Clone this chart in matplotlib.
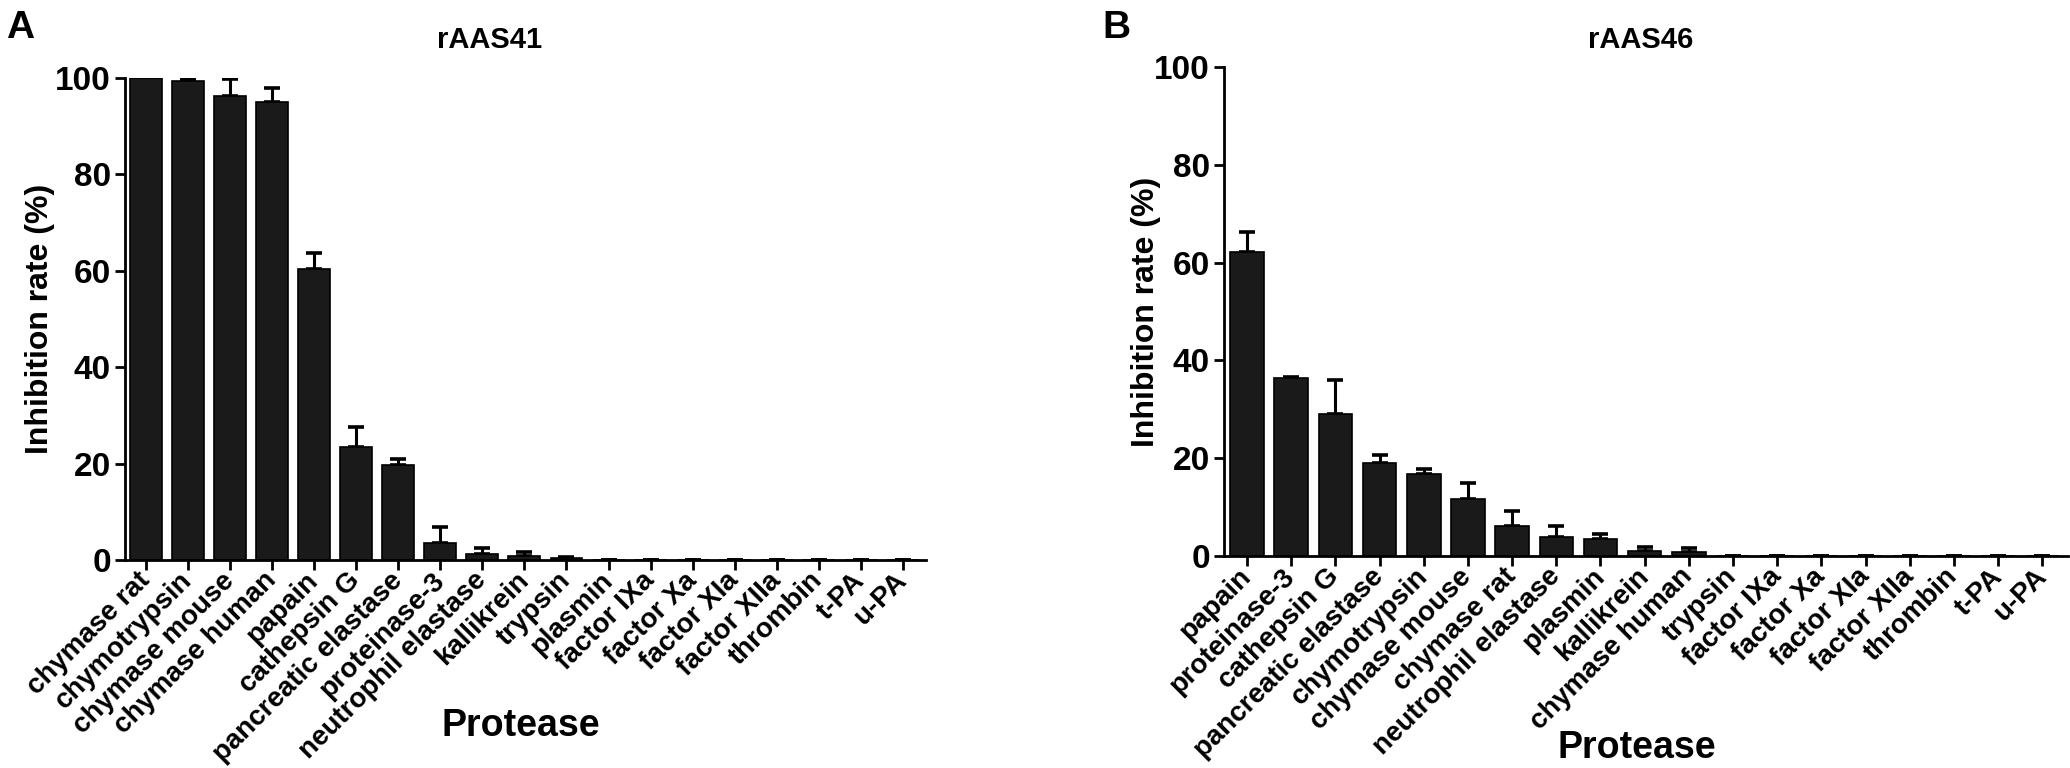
import matplotlib
matplotlib.use("Agg")
import matplotlib.pyplot as plt

plt.rcParams["font.family"] = ["Liberation Sans", "DejaVu Sans"]
plt.rcParams["font.weight"] = "bold"

# panel A: rAAS41
prot_a = ["chymase rat", "chymotrypsin", "chymase mouse", "chymase human", "papain",
          "cathepsin G", "pancreatic elastase", "proteinase-3", "neutrophil elastase",
          "kallikrein", "trypsin", "plasmin", "factor IXa", "factor Xa", "factor XIa",
          "factor XIIa", "thrombin", "t-PA", "u-PA"]
rate_a = [100, 99.4, 96.2, 95.0, 60.3, 23.4, 19.7, 3.6, 1.15, 0.8, 0.4,
          0, 0, 0, 0, 0, 0, 0, 0]
err_a = [0, 0.4, 3.6, 2.9, 3.4, 4.2, 1.3, 3.2, 1.35, 0.9, 0.3,
         0, 0, 0, 0, 0, 0, 0, 0]

# panel B: rAAS46
prot_b = ["papain", "proteinase-3", "cathepsin G", "pancreatic elastase", "chymotrypsin",
          "chymase mouse", "chymase rat", "neutrophil elastase", "plasmin", "kallikrein",
          "chymase human", "trypsin", "factor IXa", "factor Xa", "factor XIa",
          "factor XIIa", "thrombin", "t-PA", "u-PA"]
rate_b = [62.1, 36.4, 29.0, 19.0, 16.8, 11.6, 6.2, 3.8, 3.4, 1.1, 0.8,
          0, 0, 0, 0, 0, 0, 0, 0]
err_b = [4.1, 0.2, 6.9, 1.6, 0.9, 3.4, 3.1, 2.3, 1.1, 0.7, 0.8,
         0, 0, 0, 0, 0, 0, 0, 0]

W, H = 2070, 768
fig = plt.figure(figsize=(W / 100, H / 100), dpi=100)


def panel(rect, names, vals, errs, xlim, ylab_x):
    ax = fig.add_axes(rect)
    x = list(range(len(names)))
    ax.bar(x, vals, width=0.76, color="#1a1a1a", edgecolor="black", linewidth=1.2, zorder=2)
    ax.errorbar(x, vals, yerr=[[0] * len(errs), errs], fmt="none", ecolor="black",
                elinewidth=2.2, capsize=6, capthick=2.6, zorder=1)
    ax.set_xlim(*xlim)
    ax.set_ylim(0, 100)
    ax.set_yticks([0, 20, 40, 60, 80, 100])
    ax.set_xticks(x)
    ax.set_xticklabels(names, rotation=45, ha="right", va="center",
                       rotation_mode="anchor", fontsize=20, fontweight="bold")
    for lab in ax.get_yticklabels():
        lab.set_fontsize(24)
        lab.set_fontweight("bold")
    for s in ("top", "right"):
        ax.spines[s].set_visible(False)
    for s in ("left", "bottom"):
        ax.spines[s].set_linewidth(2)
    ax.tick_params(axis="both", width=2, length=7, direction="out", pad=3)
    ax.tick_params(axis="x", pad=5)
    ax.set_ylabel("Inhibition rate (%)", fontsize=23, fontweight="bold")
    ax.yaxis.set_label_coords(ylab_x, 0.5)
    return ax


ax_a = panel([125 / W, 1 - 560 / H, (926 - 125) / W, (560 - 78) / H],
             prot_a, rate_a, err_a, (-0.5, 18.55), -0.088)
ax_b = panel([1224 / W, 1 - 556 / H, (2068 - 1224) / W, (556 - 67) / H],
             prot_b, rate_b, err_b, (-0.52, 18.58), -0.075)

fig.text(490 / W, 1 - 40 / H, "rAAS41", fontsize=21, fontweight="bold",
         ha="center", va="center")
fig.text(1641 / W, 1 - 40 / H, "rAAS46", fontsize=21, fontweight="bold",
         ha="center", va="center")
fig.text(521 / W, 1 - 726 / H, "Protease", fontsize=27, fontweight="bold",
         ha="center", va="center")
fig.text(1637 / W, 1 - 748 / H, "Protease", fontsize=27, fontweight="bold",
         ha="center", va="center")
fig.text(6 / W, 1 - 28 / H, "A", fontsize=28, fontweight="bold", ha="left", va="center")
fig.text(1102 / W, 1 - 28 / H, "B", fontsize=28, fontweight="bold", ha="left", va="center")

fig.savefig("out.png", dpi=100)
